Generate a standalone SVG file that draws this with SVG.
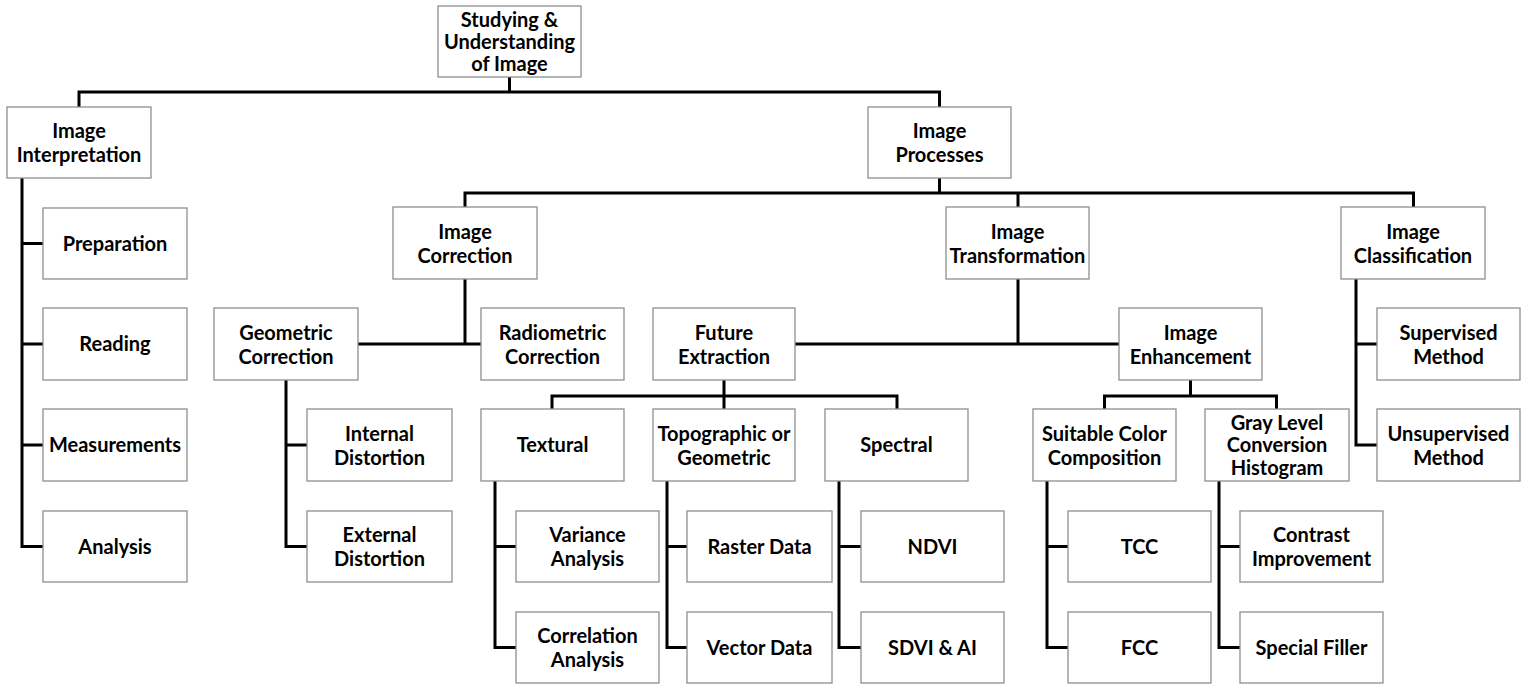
<svg xmlns="http://www.w3.org/2000/svg" width="1528" height="688" viewBox="0 0 1528 688">
<style>
.box{fill:#ffffff;stroke:#8f8f8f;stroke-width:1.3}
.lbl{font-family:Lato,"Open Sans","Liberation Sans",sans-serif;font-weight:bold;font-size:20px;fill:#000000;text-anchor:middle}
.con{fill:none;stroke:#000000;stroke-width:3;stroke-linecap:square;stroke-linejoin:miter}
</style>
<rect width="1528" height="688" fill="#ffffff"/>
<g id="connectors" class="con">
<path d="M509.5 77V92M79 92H939.5M79 92V107M939.5 92V107"/>
<path d="M22 178V546.5M22 243.5H43M22 344H43M22 445H43M22 546.5H43"/>
<path d="M939.5 178V193M465 193H1413.5M465 193V207M1018 193V207M1413.5 193V207"/>
<path d="M465 279V344M358 344H481"/>
<path d="M286 380V546.5M286 445H307M286 546.5H307"/>
<path d="M1018 279V344M796 344H1119"/>
<path d="M724 380V409M552 396H897M552 396V409M897 396V409"/>
<path d="M495 481V647.5M495 546.5H516M495 647.5H516"/>
<path d="M667 481V647.5M667 546.5H687M667 647.5H687"/>
<path d="M839 481V647.5M839 546.5H861M839 647.5H861"/>
<path d="M1190.5 380V396M1104.5 396H1276.5M1104.5 396V409M1276.5 396V409"/>
<path d="M1047 481V647.5M1047 546.5H1068M1047 647.5H1068"/>
<path d="M1219 481V647.5M1219 546.5H1240M1219 647.5H1240"/>
<path d="M1356 279V445M1356 344H1377M1356 445H1377"/>
</g>
<g id="root"><rect class="box" x="438" y="6" width="143" height="71"/><text class="lbl" x="509.5" y="27">Studying &amp;</text><text class="lbl" x="509.5" y="49">Understanding</text><text class="lbl" x="509.5" y="71">of Image</text></g>
<g id="interpretation"><rect class="box" x="7" y="107" width="144" height="71"/><text class="lbl" x="79" y="138">Image</text><text class="lbl" x="79" y="162">Interpretation</text></g>
<g id="processes"><rect class="box" x="868" y="107" width="143" height="71"/><text class="lbl" x="939.5" y="138">Image</text><text class="lbl" x="939.5" y="162">Processes</text></g>
<g id="preparation"><rect class="box" x="43" y="208" width="144" height="71"/><text class="lbl" x="115" y="250.5">Preparation</text></g>
<g id="reading"><rect class="box" x="43" y="308" width="144" height="72"/><text class="lbl" x="115" y="351">Reading</text></g>
<g id="measurements"><rect class="box" x="43" y="409" width="144" height="72"/><text class="lbl" x="115" y="452">Measurements</text></g>
<g id="analysis"><rect class="box" x="43" y="511" width="144" height="71"/><text class="lbl" x="115" y="553.5">Analysis</text></g>
<g id="correction"><rect class="box" x="393" y="207" width="144" height="72"/><text class="lbl" x="465" y="238.5">Image</text><text class="lbl" x="465" y="262.5">Correction</text></g>
<g id="transformation"><rect class="box" x="946" y="207" width="143" height="72"/><text class="lbl" x="1017.5" y="238.5">Image</text><text class="lbl" x="1017.5" y="262.5">Transformation</text></g>
<g id="classification"><rect class="box" x="1341" y="207" width="144" height="72"/><text class="lbl" x="1413" y="238.5">Image</text><text class="lbl" x="1413" y="262.5">Classification</text></g>
<g id="geometric"><rect class="box" x="214" y="308" width="144" height="72"/><text class="lbl" x="286" y="339.5">Geometric</text><text class="lbl" x="286" y="363.5">Correction</text></g>
<g id="radiometric"><rect class="box" x="481" y="308" width="143" height="72"/><text class="lbl" x="552.5" y="339.5">Radiometric</text><text class="lbl" x="552.5" y="363.5">Correction</text></g>
<g id="future"><rect class="box" x="653" y="308" width="142" height="72"/><text class="lbl" x="724" y="339.5">Future</text><text class="lbl" x="724" y="363.5">Extraction</text></g>
<g id="enhancement"><rect class="box" x="1119" y="308" width="143" height="72"/><text class="lbl" x="1190.5" y="339.5">Image</text><text class="lbl" x="1190.5" y="363.5">Enhancement</text></g>
<g id="supervised"><rect class="box" x="1377" y="308" width="143" height="72"/><text class="lbl" x="1448.5" y="339.5">Supervised</text><text class="lbl" x="1448.5" y="363.5">Method</text></g>
<g id="unsupervised"><rect class="box" x="1377" y="409" width="143" height="72"/><text class="lbl" x="1448.5" y="440.5">Unsupervised</text><text class="lbl" x="1448.5" y="464.5">Method</text></g>
<g id="internal"><rect class="box" x="307" y="409" width="145" height="72"/><text class="lbl" x="379.5" y="440.5">Internal</text><text class="lbl" x="379.5" y="464.5">Distortion</text></g>
<g id="external"><rect class="box" x="307" y="511" width="145" height="71"/><text class="lbl" x="379.5" y="542">External</text><text class="lbl" x="379.5" y="566">Distortion</text></g>
<g id="textural"><rect class="box" x="481" y="409" width="143" height="72"/><text class="lbl" x="552.5" y="452">Textural</text></g>
<g id="topographic"><rect class="box" x="653" y="409" width="142" height="72"/><text class="lbl" x="724" y="440.5">Topographic or</text><text class="lbl" x="724" y="464.5">Geometric</text></g>
<g id="spectral"><rect class="box" x="825" y="409" width="143" height="72"/><text class="lbl" x="896.5" y="452">Spectral</text></g>
<g id="suitable"><rect class="box" x="1033" y="409" width="143" height="72"/><text class="lbl" x="1104.5" y="440.5">Suitable Color</text><text class="lbl" x="1104.5" y="464.5">Composition</text></g>
<g id="graylevel"><rect class="box" x="1205" y="409" width="144" height="72"/><text class="lbl" x="1277" y="429.5">Gray Level</text><text class="lbl" x="1277" y="452">Conversion</text><text class="lbl" x="1277" y="474.5">Histogram</text></g>
<g id="variance"><rect class="box" x="516" y="511" width="143" height="71"/><text class="lbl" x="587.5" y="542">Variance</text><text class="lbl" x="587.5" y="566">Analysis</text></g>
<g id="correlation"><rect class="box" x="516" y="612" width="143" height="71"/><text class="lbl" x="587.5" y="643">Correlation</text><text class="lbl" x="587.5" y="667">Analysis</text></g>
<g id="raster"><rect class="box" x="687" y="511" width="145" height="71"/><text class="lbl" x="759.5" y="553.5">Raster Data</text></g>
<g id="vector"><rect class="box" x="687" y="612" width="145" height="71"/><text class="lbl" x="759.5" y="654.5">Vector Data</text></g>
<g id="ndvi"><rect class="box" x="861" y="511" width="143" height="71"/><text class="lbl" x="932.5" y="553.5">NDVI</text></g>
<g id="sdvi"><rect class="box" x="861" y="612" width="143" height="71"/><text class="lbl" x="932.5" y="654.5">SDVI &amp; AI</text></g>
<g id="tcc"><rect class="box" x="1068" y="511" width="143" height="71"/><text class="lbl" x="1139.5" y="553.5">TCC</text></g>
<g id="fcc"><rect class="box" x="1068" y="612" width="143" height="71"/><text class="lbl" x="1139.5" y="654.5">FCC</text></g>
<g id="contrast"><rect class="box" x="1240" y="511" width="143" height="71"/><text class="lbl" x="1311.5" y="542">Contrast</text><text class="lbl" x="1311.5" y="566">Improvement</text></g>
<g id="special"><rect class="box" x="1240" y="612" width="143" height="71"/><text class="lbl" x="1311.5" y="654.5">Special Filler</text></g>
</svg>
